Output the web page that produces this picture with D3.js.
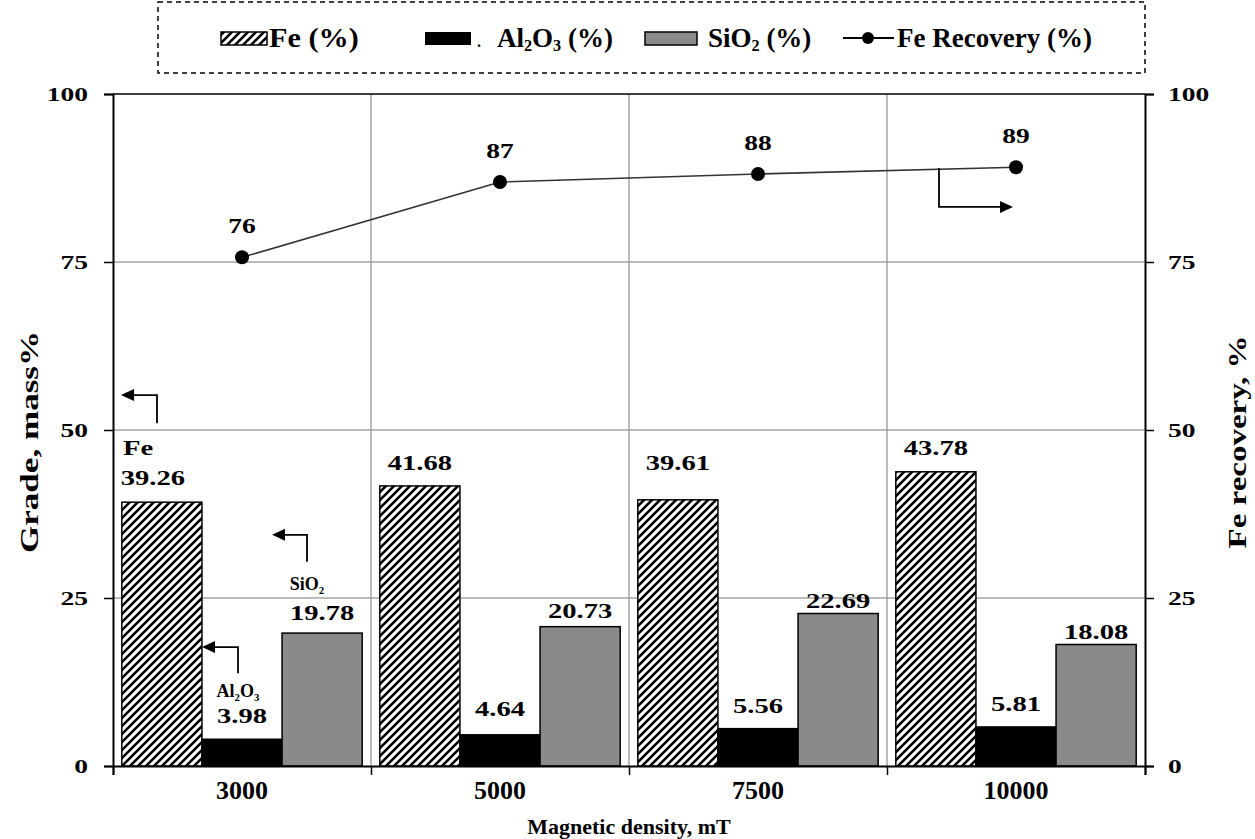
<!DOCTYPE html>
<html>
<head>
<meta charset="utf-8">
<script src="https://cdn.jsdelivr.net/npm/d3@7"></script>
<style>
  body { margin: 0; background: #fff; }
  svg { display: block; }
  .serif { font-family: "Liberation Serif", "Times New Roman", serif; font-weight: bold; }
</style>
</head>
<body>
<div id="chart"></div>
<script>
// Magnetic separation: grade (bars, left axis) and Fe recovery (line, right axis)
const categories = ["3000", "5000", "7500", "10000"];
const seriesKeys = ["Fe", "Al2O3", "SiO2"];
const feGrade = [39.26, 41.68, 39.61, 43.78];
const al2o3Grade = [3.98, 4.64, 5.56, 5.81];
const sio2Grade = [19.78, 20.73, 22.69, 18.08];
const feRecovery = [75.7, 86.9, 88.1, 89.1];
const recoveryLabels = ["76", "87", "88", "89"];
const yTicks = [0, 25, 50, 75, 100];

const W = 1255, H = 839;
const m = { left: 113, right: 1145, top: 94, bottom: 766 };

const svg = d3.select("#chart").append("svg").attr("width", W).attr("height", H);
const defs = svg.append("defs");
const hatch = defs.append("pattern").attr("id", "hatch")
  .attr("patternUnits", "userSpaceOnUse").attr("width", 8).attr("height", 8);
hatch.append("rect").attr("width", 8).attr("height", 8).attr("fill", "#fff");
hatch.append("path").attr("d", "M-2,2 l4,-4 M0,8 l8,-8 M6,10 l4,-4")
  .attr("stroke", "#000").attr("stroke-width", 2.6);

const x = d3.scaleBand().domain(categories).range([m.left, m.right]);
const xs = d3.scaleBand().domain(seriesKeys).range([0, x.bandwidth()]).paddingOuter(0.11);
const y = d3.scaleLinear().domain([0, 100]).range([m.bottom, m.top]);
const y2 = d3.scaleLinear().domain([0, 100]).range([m.bottom, m.top]);

const fills = { Fe: "url(#hatch)", Al2O3: "#000", SiO2: "#8a8a8a" };
const values = { Fe: feGrade, Al2O3: al2o3Grade, SiO2: sio2Grade };
// label lift above bar top (px), as placed in the original
const labelLift = { Fe: [17, 16, 30, 17], Al2O3: [16, 19, 16, 16], SiO2: [13, 9, 6, 6] };

// wide bold serif text: anchor at (tx,ty), stretched horizontally by sx
const wideText = (g, tx, ty, str, size, sx, anchor = "middle") =>
  g.append("text").attr("class", "serif").attr("font-size", size).attr("text-anchor", anchor)
    .attr("transform", `translate(${tx},${ty}) scale(${sx},1)`).text(str);

// grid
const grid = svg.append("g").attr("stroke", "#a3a3a3").attr("stroke-width", 1.5);
grid.selectAll("line.h").data([25, 50, 75]).join("line")
  .attr("x1", m.left).attr("x2", m.right).attr("y1", d => y(d)).attr("y2", d => y(d));
grid.selectAll("line.v").data(categories.slice(1)).join("line")
  .attr("x1", d => x(d)).attr("x2", d => x(d)).attr("y1", m.top).attr("y2", m.bottom);
svg.append("line").attr("x1", m.left).attr("x2", m.right).attr("y1", m.top).attr("y2", m.top)
  .attr("stroke", "#000").attr("stroke-width", 1.5);

// bars
const rows = categories.flatMap((c, i) => seriesKeys.map(k => ({ c, i, k, v: values[k][i] })));
svg.append("g").selectAll("rect").data(rows).join("rect")
  .attr("x", d => x(d.c) + xs(d.k))
  .attr("y", d => y(d.v))
  .attr("width", xs.bandwidth())
  .attr("height", d => y(0) - y(d.v))
  .attr("fill", d => fills[d.k])
  .attr("stroke", "#000").attr("stroke-width", 1.5);

const barLbl = svg.append("g");
rows.forEach(d => wideText(barLbl,
  x(d.c) + xs(d.k) + xs.bandwidth() / 2 + (d.k === "Fe" && d.i === 0 ? -9 : 0),
  y(d.v) - labelLift[d.k][d.i], d.v.toFixed(2), 22, 1.3));

// axes
const axL = svg.append("g").attr("transform", `translate(${m.left},0)`)
  .call(d3.axisLeft(y).tickValues(yTicks).tickSize(9).tickFormat(""));
const axR = svg.append("g").attr("transform", `translate(${m.right},0)`)
  .call(d3.axisRight(y2).tickValues(yTicks).tickSize(9).tickFormat(""));
const axB = svg.append("g").attr("transform", `translate(0,${m.bottom})`)
  .call(d3.axisBottom(d3.scaleLinear().domain([0, 4]).range([m.left, m.right]))
    .tickValues([0, 1, 2, 3, 4]).tickSize(9).tickFormat(""));
[axL, axR, axB].forEach(a => {
  a.select(".domain").attr("stroke", "#000").attr("stroke-width", 2);
  a.selectAll(".tick line").attr("stroke", "#000").attr("stroke-width", 1.5);
});
const tickLbl = svg.append("g");
yTicks.forEach(t => {
  wideText(tickLbl, 88, y(t) + 7, t, 19, 1.45, "end");
  wideText(tickLbl, 1168, y2(t) + 7, t, 19, 1.45, "start");
});

svg.append("g").attr("class", "serif").attr("font-size", 26).attr("text-anchor", "middle")
  .selectAll("text").data(categories).join("text")
  .attr("x", d => x(d) + x.bandwidth() / 2).attr("y", 799).text(d => d);

svg.append("text").attr("class", "serif").attr("font-size", 22).attr("text-anchor", "middle")
  .attr("x", (m.left + m.right) / 2).attr("y", 834).text("Magnetic density, mT");
svg.append("text").attr("class", "serif").attr("font-size", 26).attr("text-anchor", "middle")
  .attr("transform", `translate(38,${(m.top + m.bottom) / 2 + 12}) rotate(-90) scale(1.35,1)`).text("Grade, mass%");
svg.append("text").attr("class", "serif").attr("font-size", 26).attr("text-anchor", "middle")
  .attr("transform", `translate(1246,${(m.top + m.bottom) / 2 + 12}) rotate(-90) scale(1.27,1)`).text("Fe recovery, %");

// recovery line
const cx = (d, i) => x(categories[i]) + x.bandwidth() / 2;
svg.append("path").datum(feRecovery)
  .attr("d", d3.line().x(cx).y(d => y2(d)))
  .attr("fill", "none").attr("stroke", "#333").attr("stroke-width", 1.6);
svg.append("g").selectAll("circle").data(feRecovery).join("circle")
  .attr("cx", cx).attr("cy", d => y2(d)).attr("r", 7).attr("fill", "#000");
const recLbl = svg.append("g");
feRecovery.forEach((d, i) => wideText(recLbl, cx(d, i), y2(d) - 24, recoveryLabels[i], 22, 1.25));

// annotation arrows (elbow from series label toward its axis)
const arrowHead = (g, tx, ty, dir) => {
  const p = dir < 0 ? `M${tx},${ty} l13,-6 l0,12 z` : `M${tx},${ty} l-13,-6 l0,12 z`;
  g.append("path").attr("d", p).attr("fill", "#000");
};
const annots = [
  { xv: 44, y0: 51.0, y1: 55.2, tip: 8 },
  { xv: 194, y0: 30.4, y1: 34.4, tip: 159 },
  { xv: 125, y0: 13.8, y1: 17.7, tip: 89 },
];
const ann = svg.append("g");
annots.forEach(a => {
  const gx = x(categories[0]);
  ann.append("path")
    .attr("d", `M${gx + a.xv},${y(a.y0)} V${y(a.y1)} H${gx + a.tip + 10}`)
    .attr("fill", "none").attr("stroke", "#000").attr("stroke-width", 1.8);
  arrowHead(ann, gx + a.tip, y(a.y1), -1);
});
{
  const gx = x(categories[3]);
  ann.append("path")
    .attr("d", `M${gx + 52},${y2(feRecovery[3] - 0.1)} V${y2(83.2)} H${gx + 116}`)
    .attr("fill", "none").attr("stroke", "#000").attr("stroke-width", 1.8);
  arrowHead(ann, gx + 126, y2(83.2), 1);
}
wideText(svg, x(categories[0]) + 10, y(feGrade[0]) - 47, "Fe", 22, 1.3, "start");
const sub = (t, parts, size) => {
  parts.forEach(([s, isSub], j) => t.append("tspan").text(s)
    .attr("font-size", isSub ? size * 0.6 : size).attr("dy", isSub ? 4 : (j === 0 ? 0 : -4)));
};
const siLbl = svg.append("text").attr("class", "serif").attr("text-anchor", "middle")
  .attr("x", x(categories[0]) + xs("SiO2") + 25).attr("y", y(sio2Grade[0]) - 43);
sub(siLbl, [["SiO", false], ["2", true]], 18);
const alLbl = svg.append("text").attr("class", "serif").attr("text-anchor", "middle")
  .attr("x", x(categories[0]) + xs("Al2O3") + 36).attr("y", y(al2o3Grade[0]) - 42);
sub(alLbl, [["Al", false], ["2", true], ["O", false], ["3", true]], 18);

// legend
const lg = svg.append("g");
lg.append("rect").attr("x", 158).attr("y", 2).attr("width", 987).attr("height", 71)
  .attr("fill", "none").attr("stroke", "#000").attr("stroke-width", 1.5).attr("stroke-dasharray", "5,4");
const ly = 38;
lg.append("rect").attr("x", 221).attr("y", ly - 6).attr("width", 46).attr("height", 13)
  .attr("fill", "url(#hatch)").attr("stroke", "#000").attr("stroke-width", 1.5);
lg.append("rect").attr("x", 425).attr("y", ly - 6).attr("width", 46).attr("height", 13).attr("fill", "#000");
lg.append("rect").attr("x", 645).attr("y", ly - 6).attr("width", 52).attr("height", 13)
  .attr("fill", "#8a8a8a").attr("stroke", "#000").attr("stroke-width", 1.5);
lg.append("line").attr("x1", 843).attr("x2", 894).attr("y1", ly).attr("y2", ly)
  .attr("stroke", "#000").attr("stroke-width", 2);
lg.append("circle").attr("cx", 868).attr("cy", ly).attr("r", 6).attr("fill", "#000");
const legText = (tx, parts, sx = 1) => {
  const t = lg.append("text").attr("class", "serif")
    .attr("transform", `translate(${tx},${ly + 9}) scale(${sx},1)`);
  sub(t, parts, 27);
};
legText(269, [["Fe (%)", false]], 1.12);
lg.append("text").attr("class", "serif").attr("x", 477).attr("y", ly + 9).attr("font-size", 16).text(".");
legText(497, [["Al", false], ["2", true], ["O", false], ["3", true], [" (%)", false]]);
legText(708, [["SiO", false], ["2", true], [" (%)", false]]);
legText(897, [["Fe Recovery (%)", false]]);
</script>
</body>
</html>
